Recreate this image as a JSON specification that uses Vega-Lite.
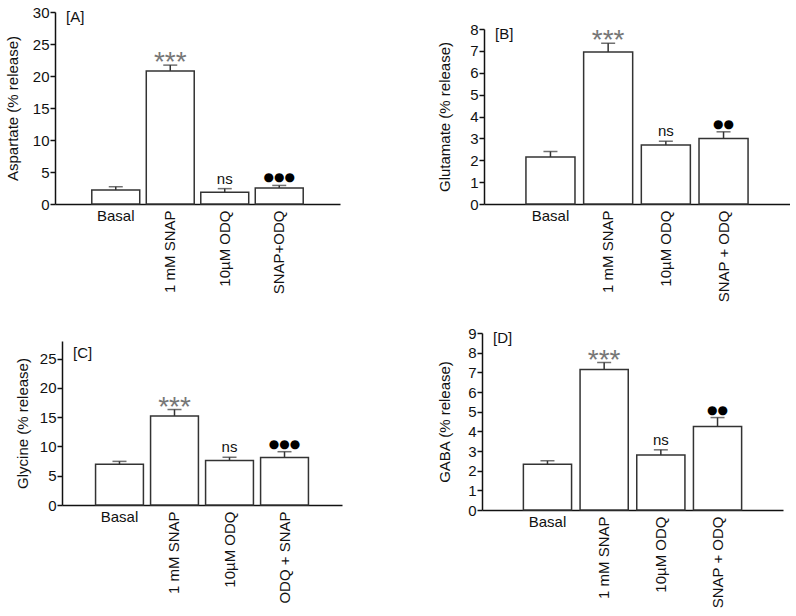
{
  "$schema": "https://vega.github.io/schema/vega-lite/v6.json",
  "padding": {"left": 5, "top": 5, "right": 0, "bottom": 0},
  "background": "white",
  "spacing": 23,
  "center": true,
  "config": {
    "view": {"stroke": null},
    "font": "Liberation Sans",
    "axis": {"domainColor": "#111", "domainWidth": 1.5, "tickColor": "#111", "tickWidth": 1.5, "labelColor": "#111", "titleColor": "#111", "labelFontSize": 15, "titleFontSize": 15, "titleFontWeight": "normal", "grid": false, "labelFont": "Liberation Sans", "titleFont": "Liberation Sans"},
    "axisY": {"tickSize": 5, "labelPadding": 1},
    "axisX": {"ticks": false, "labelPadding": 6, "title": null, "labelLimit": 0, "labelOverlap": false, "labelAngle": 270, "labelExpr": "datum.value === 'Basal' ? '' : datum.label"},
    "title": {"anchor": "start", "frame": "group", "fontSize": 15, "fontWeight": "normal", "color": "#111", "font": "Liberation Sans", "offset": -20, "dx": 11, "baseline": "top"}
  },
  "vconcat": [
    {
      "hconcat": [
        {
          "width": 285, "height": 192,
          "title": "[A]",
          "data": {"values": [
            {"group": "Basal", "mean": 2.2, "upper": 2.7, "sig": ""},
            {"group": "1 mM SNAP", "mean": 20.8, "upper": 21.7, "sig": "***"},
            {"group": "10µM ODQ", "mean": 1.85, "upper": 2.4, "sig": "ns"},
            {"group": "SNAP+ODQ", "mean": 2.5, "upper": 2.9, "sig": "●●●"}
          ]},
          "encoding": {"x": {"field": "group", "type": "nominal", "sort": null, "scale": {"paddingInner": 0.12, "paddingOuter": 0.675}}},
          "layer": [
            {"mark": {"type": "bar", "fill": "white", "stroke": "#333", "strokeWidth": 1.5},
             "encoding": {"y": {"field": "mean", "type": "quantitative", "scale": {"domain": [0, 30]}, "axis": {"title": "Aspartate (% release)", "values": [0, 5, 10, 15, 20, 25, 30], "titlePadding": 12}}}},
            {"mark": {"type": "rule", "color": "#333", "strokeWidth": 1.5},
             "encoding": {"y": {"field": "mean", "type": "quantitative", "axis": {"title": "Aspartate (% release)", "values": [0, 5, 10, 15, 20, 25, 30], "titlePadding": 12}}, "y2": {"field": "upper"}}},
            {"mark": {"type": "tick", "orient": "horizontal", "size": 14, "thickness": 1.5, "color": "#333"},
             "encoding": {"y": {"field": "upper", "type": "quantitative", "axis": {"title": "Aspartate (% release)", "values": [0, 5, 10, 15, 20, 25, 30], "titlePadding": 12}}}},
            {"transform": [{"filter": "datum.sig === '***'"}],
             "mark": {"type": "text", "baseline": "alphabetic", "dy": 6, "fontSize": 28, "color": "#777"},
             "encoding": {"y": {"field": "upper", "type": "quantitative", "axis": {"title": "Aspartate (% release)", "values": [0, 5, 10, 15, 20, 25, 30], "titlePadding": 12}}, "text": {"field": "sig"}}},
            {"transform": [{"filter": "datum.sig === 'ns'"}],
             "mark": {"type": "text", "baseline": "alphabetic", "dy": -5, "fontSize": 15, "color": "#111"},
             "encoding": {"y": {"field": "upper", "type": "quantitative", "axis": {"title": "Aspartate (% release)", "values": [0, 5, 10, 15, 20, 25, 30], "titlePadding": 12}}, "text": {"field": "sig"}}},
            {"transform": [{"filter": "datum.sig !== '' && datum.sig !== '***' && datum.sig !== 'ns'"}],
             "mark": {"type": "text", "baseline": "alphabetic", "dy": -4, "fontSize": 12, "font": "DejaVu Sans", "color": "#000"},
             "encoding": {"y": {"field": "upper", "type": "quantitative", "axis": {"title": "Aspartate (% release)", "values": [0, 5, 10, 15, 20, 25, 30], "titlePadding": 12}}, "text": {"field": "sig"}}},
            {"transform": [{"filter": "datum.group === 'Basal'"}],
             "mark": {"type": "text", "baseline": "top", "dy": 5, "fontSize": 15, "color": "#111"},
             "encoding": {"y": {"datum": 0, "type": "quantitative", "axis": {"title": "Aspartate (% release)", "values": [0, 5, 10, 15, 20, 25, 30], "titlePadding": 12}}, "text": {"field": "group"}}}
          ]
        },
        {
          "spacing": 0,
          "vconcat": [
            {"width": 306, "height": 10, "data": {"values": []}, "mark": "point", "encoding": {}},
            {
              "width": 306, "height": 175,
              "title": "[B]",
              "data": {"values": [
                {"group": "Basal", "mean": 2.15, "upper": 2.4, "sig": ""},
                {"group": "1 mM SNAP", "mean": 6.95, "upper": 7.35, "sig": "***"},
                {"group": "10µM ODQ", "mean": 2.7, "upper": 2.87, "sig": "ns"},
                {"group": "SNAP + ODQ", "mean": 3.0, "upper": 3.3, "sig": "●●"}
              ]},
              "encoding": {"x": {"field": "group", "type": "nominal", "sort": null, "scale": {"paddingInner": 0.15, "paddingOuter": 0.727}}},
              "layer": [
                {"mark": {"type": "bar", "fill": "white", "stroke": "#333", "strokeWidth": 1.5},
                 "encoding": {"y": {"field": "mean", "type": "quantitative", "scale": {"domain": [0, 8]}, "axis": {"title": "Glutamate (% release)", "values": [0, 1, 2, 3, 4, 5, 6, 7, 8], "titlePadding": 17}}}},
                {"mark": {"type": "rule", "color": "#333", "strokeWidth": 1.5},
                 "encoding": {"y": {"field": "mean", "type": "quantitative", "axis": {"title": "Glutamate (% release)", "values": [0, 1, 2, 3, 4, 5, 6, 7, 8], "titlePadding": 17}}, "y2": {"field": "upper"}}},
                {"mark": {"type": "tick", "orient": "horizontal", "size": 14, "thickness": 1.5, "color": "#333"},
                 "encoding": {"y": {"field": "upper", "type": "quantitative", "axis": {"title": "Glutamate (% release)", "values": [0, 1, 2, 3, 4, 5, 6, 7, 8], "titlePadding": 17}}}},
                {"transform": [{"filter": "datum.sig === '***'"}],
                 "mark": {"type": "text", "baseline": "alphabetic", "dy": 6, "fontSize": 28, "color": "#777"},
                 "encoding": {"y": {"field": "upper", "type": "quantitative", "axis": {"title": "Glutamate (% release)", "values": [0, 1, 2, 3, 4, 5, 6, 7, 8], "titlePadding": 17}}, "text": {"field": "sig"}}},
                {"transform": [{"filter": "datum.sig === 'ns'"}],
                 "mark": {"type": "text", "baseline": "alphabetic", "dy": -5, "fontSize": 15, "color": "#111"},
                 "encoding": {"y": {"field": "upper", "type": "quantitative", "axis": {"title": "Glutamate (% release)", "values": [0, 1, 2, 3, 4, 5, 6, 7, 8], "titlePadding": 17}}, "text": {"field": "sig"}}},
                {"transform": [{"filter": "datum.sig !== '' && datum.sig !== '***' && datum.sig !== 'ns'"}],
                 "mark": {"type": "text", "baseline": "alphabetic", "dy": -4, "fontSize": 12, "font": "DejaVu Sans", "color": "#000"},
                 "encoding": {"y": {"field": "upper", "type": "quantitative", "axis": {"title": "Glutamate (% release)", "values": [0, 1, 2, 3, 4, 5, 6, 7, 8], "titlePadding": 17}}, "text": {"field": "sig"}}},
                {"transform": [{"filter": "datum.group === 'Basal'"}],
                 "mark": {"type": "text", "baseline": "top", "dy": 5, "fontSize": 15, "color": "#111"},
                 "encoding": {"y": {"datum": 0, "type": "quantitative", "axis": {"title": "Glutamate (% release)", "values": [0, 1, 2, 3, 4, 5, 6, 7, 8], "titlePadding": 17}}, "text": {"field": "group"}}}
              ]
            }
          ]
        }
      ],
      "spacing": 97
    },
    {
      "hconcat": [
        {
          "spacing": 0,
          "vconcat": [
            {"width": 280, "height": 8, "data": {"values": []}, "mark": "point", "encoding": {}},
            {
              "width": 280, "height": 164,
              "title": "[C]",
              "data": {"values": [
                {"group": "Basal", "mean": 6.95, "upper": 7.45, "sig": ""},
                {"group": "1 mM SNAP", "mean": 15.2, "upper": 16.3, "sig": "***"},
                {"group": "10µM ODQ", "mean": 7.6, "upper": 8.15, "sig": "ns"},
                {"group": "ODQ + SNAP", "mean": 8.1, "upper": 9.1, "sig": "●●●"}
              ]},
              "encoding": {"x": {"field": "group", "type": "nominal", "sort": null, "scale": {"paddingInner": 0.13, "paddingOuter": 0.61}}},
              "layer": [
                {"mark": {"type": "bar", "fill": "white", "stroke": "#333", "strokeWidth": 1.5},
                 "encoding": {"y": {"field": "mean", "type": "quantitative", "scale": {"domain": [0, 27]}, "axis": {"title": "Glycine (% release)", "values": [0, 5, 10, 15, 20, 25], "titlePadding": 9}}}},
                {"mark": {"type": "rule", "color": "#333", "strokeWidth": 1.5},
                 "encoding": {"y": {"field": "mean", "type": "quantitative", "axis": {"title": "Glycine (% release)", "values": [0, 5, 10, 15, 20, 25], "titlePadding": 9}}, "y2": {"field": "upper"}}},
                {"mark": {"type": "tick", "orient": "horizontal", "size": 14, "thickness": 1.5, "color": "#333"},
                 "encoding": {"y": {"field": "upper", "type": "quantitative", "axis": {"title": "Glycine (% release)", "values": [0, 5, 10, 15, 20, 25], "titlePadding": 9}}}},
                {"transform": [{"filter": "datum.sig === '***'"}],
                 "mark": {"type": "text", "baseline": "alphabetic", "dy": 6, "fontSize": 28, "color": "#777"},
                 "encoding": {"y": {"field": "upper", "type": "quantitative", "axis": {"title": "Glycine (% release)", "values": [0, 5, 10, 15, 20, 25], "titlePadding": 9}}, "text": {"field": "sig"}}},
                {"transform": [{"filter": "datum.sig === 'ns'"}],
                 "mark": {"type": "text", "baseline": "alphabetic", "dy": -5, "fontSize": 15, "color": "#111"},
                 "encoding": {"y": {"field": "upper", "type": "quantitative", "axis": {"title": "Glycine (% release)", "values": [0, 5, 10, 15, 20, 25], "titlePadding": 9}}, "text": {"field": "sig"}}},
                {"transform": [{"filter": "datum.sig !== '' && datum.sig !== '***' && datum.sig !== 'ns'"}],
                 "mark": {"type": "text", "baseline": "alphabetic", "dy": -4, "fontSize": 12, "font": "DejaVu Sans", "color": "#000"},
                 "encoding": {"y": {"field": "upper", "type": "quantitative", "axis": {"title": "Glycine (% release)", "values": [0, 5, 10, 15, 20, 25], "titlePadding": 9}}, "text": {"field": "sig"}}},
                {"transform": [{"filter": "datum.group === 'Basal'"}],
                 "mark": {"type": "text", "baseline": "top", "dy": 5, "fontSize": 15, "color": "#111"},
                 "encoding": {"y": {"datum": 0, "type": "quantitative", "axis": {"title": "Glycine (% release)", "values": [0, 5, 10, 15, 20, 25], "titlePadding": 9}}, "text": {"field": "group"}}}
              ]
            }
          ]
        },
        {
          "width": 301, "height": 177,
          "title": "[D]",
          "data": {"values": [
            {"group": "Basal", "mean": 2.33, "upper": 2.5, "sig": ""},
            {"group": "1 mM SNAP", "mean": 7.15, "upper": 7.5, "sig": "***"},
            {"group": "10µM ODQ", "mean": 2.8, "upper": 3.06, "sig": "ns"},
            {"group": "SNAP + ODQ", "mean": 4.25, "upper": 4.7, "sig": "●●"}
          ]},
          "encoding": {"x": {"field": "group", "type": "nominal", "sort": null, "scale": {"paddingInner": 0.15, "paddingOuter": 0.73}}},
          "layer": [
            {"mark": {"type": "bar", "fill": "white", "stroke": "#333", "strokeWidth": 1.5},
             "encoding": {"y": {"field": "mean", "type": "quantitative", "scale": {"domain": [0, 9]}, "axis": {"title": "GABA (% release)", "values": [0, 1, 2, 3, 4, 5, 6, 7, 8, 9], "titlePadding": 15}}}},
            {"mark": {"type": "rule", "color": "#333", "strokeWidth": 1.5},
             "encoding": {"y": {"field": "mean", "type": "quantitative", "axis": {"title": "GABA (% release)", "values": [0, 1, 2, 3, 4, 5, 6, 7, 8, 9], "titlePadding": 15}}, "y2": {"field": "upper"}}},
            {"mark": {"type": "tick", "orient": "horizontal", "size": 14, "thickness": 1.5, "color": "#333"},
             "encoding": {"y": {"field": "upper", "type": "quantitative", "axis": {"title": "GABA (% release)", "values": [0, 1, 2, 3, 4, 5, 6, 7, 8, 9], "titlePadding": 15}}}},
            {"transform": [{"filter": "datum.sig === '***'"}],
             "mark": {"type": "text", "baseline": "alphabetic", "dy": 6, "fontSize": 28, "color": "#777"},
             "encoding": {"y": {"field": "upper", "type": "quantitative", "axis": {"title": "GABA (% release)", "values": [0, 1, 2, 3, 4, 5, 6, 7, 8, 9], "titlePadding": 15}}, "text": {"field": "sig"}}},
            {"transform": [{"filter": "datum.sig === 'ns'"}],
             "mark": {"type": "text", "baseline": "alphabetic", "dy": -5, "fontSize": 15, "color": "#111"},
             "encoding": {"y": {"field": "upper", "type": "quantitative", "axis": {"title": "GABA (% release)", "values": [0, 1, 2, 3, 4, 5, 6, 7, 8, 9], "titlePadding": 15}}, "text": {"field": "sig"}}},
            {"transform": [{"filter": "datum.sig !== '' && datum.sig !== '***' && datum.sig !== 'ns'"}],
             "mark": {"type": "text", "baseline": "alphabetic", "dy": -4, "fontSize": 12, "font": "DejaVu Sans", "color": "#000"},
             "encoding": {"y": {"field": "upper", "type": "quantitative", "axis": {"title": "GABA (% release)", "values": [0, 1, 2, 3, 4, 5, 6, 7, 8, 9], "titlePadding": 15}}, "text": {"field": "sig"}}},
            {"transform": [{"filter": "datum.group === 'Basal'"}],
             "mark": {"type": "text", "baseline": "top", "dy": 5, "fontSize": 15, "color": "#111"},
             "encoding": {"y": {"datum": 0, "type": "quantitative", "axis": {"title": "GABA (% release)", "values": [0, 1, 2, 3, 4, 5, 6, 7, 8, 9], "titlePadding": 15}}, "text": {"field": "group"}}}
          ]
        }
      ],
      "spacing": 95
    }
  ]
}
